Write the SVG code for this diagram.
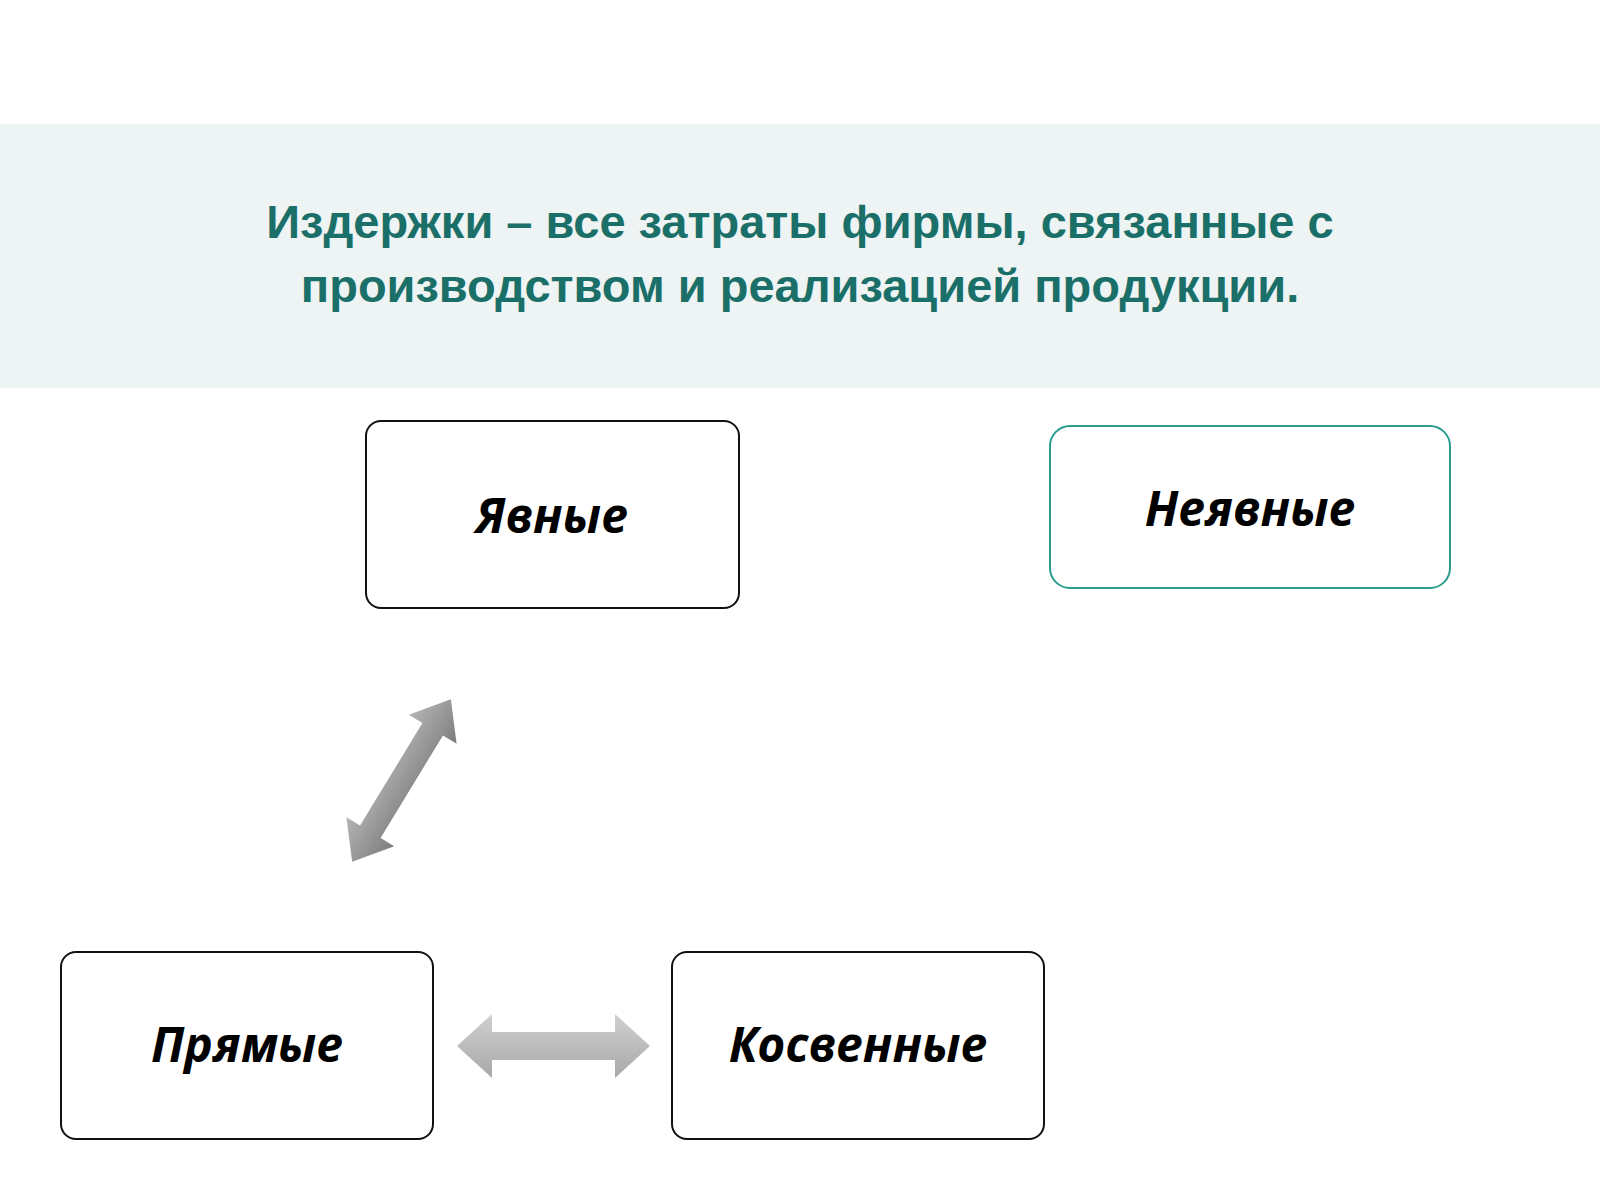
<svg xmlns="http://www.w3.org/2000/svg" width="1600" height="1200" viewBox="0 0 1600 1200">
<defs>
<style>
.box{fill:#fff;stroke:#111;stroke-width:2}
.lbl{font-family:"Open Sans","DejaVu Sans",sans-serif;font-weight:bold;font-style:italic;font-size:48px;fill:#000;text-anchor:middle}
.title{font-family:"Liberation Sans",Arial,sans-serif;font-weight:bold;font-size:47px;fill:#1b6f69;text-anchor:middle}
</style>
<linearGradient id="g1" x1="0" y1="0" x2="0" y2="1"><stop offset="0" stop-color="#b5b5b5"/><stop offset="1" stop-color="#7d7d7d"/></linearGradient>
<linearGradient id="g2" x1="0" y1="0" x2="0" y2="1"><stop offset="0" stop-color="#d0d0d0"/><stop offset="1" stop-color="#a8a8a8"/></linearGradient>
</defs>
<rect width="1600" height="1200" fill="#fff"/>
<rect x="0" y="124" width="1600" height="264" fill="#eef3f3"/>
<text class="title" x="800" y="238">Издержки – все затраты фирмы, связанные с</text>
<text class="title" x="800" y="302">производством и реализацией продукции.</text>
<g id="yavnye"><rect class="box" x="366" y="421" width="373" height="187" rx="15"/><text class="lbl" x="552" y="533">Явные</text></g>
<g id="neyavnye"><rect class="box" x="1050" y="426" width="400" height="162" rx="20" style="stroke:#2a9d8f"/><text class="lbl" x="1250" y="526">Неявные</text></g>
<g id="pryamye"><rect class="box" x="61" y="952" width="372" height="187" rx="15"/><text class="lbl" x="247" y="1062">Прямые</text></g>
<g id="kosvennye"><rect class="box" x="672" y="952" width="372" height="187" rx="15"/><text class="lbl" x="858" y="1062">Косвенные</text></g>
<g id="connectors">
<polygon transform="translate(401.5,780.5) rotate(-58.7)" fill="url(#g1)" points="-95,0 -60,-28 -60,-12 60,-12 60,-28 95,0 60,28 60,12 -60,12 -60,28"/>
<polygon fill="url(#g2)" points="457,1046 492,1014 492,1032 615,1032 615,1014 650,1046 615,1078 615,1060 492,1060 492,1078"/>
</g>
</svg>
